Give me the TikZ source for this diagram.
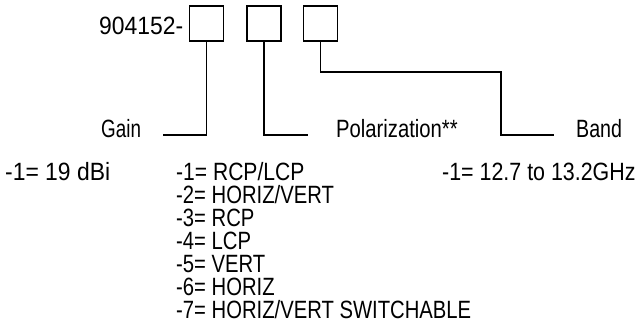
\documentclass[tikz,border=0pt]{standalone}
\usepackage{graphicx}
\usepackage{fontspec}
\setmainfont{Liberation Sans}[FakeStretch=0.81]
\begin{document}
\begin{tikzpicture}[x=1pt,y=-1pt,
  codebox/.style={draw=black,line width=1.8pt,minimum width=34pt,minimum height=35pt,inner sep=0pt},
  lbl/.style={anchor=base west,inner sep=0pt,font=\fontsize{25}{25}\selectfont},
  wire/.style={draw=black,line width=1.8pt}]
\useasboundingbox (0,0) rectangle (638,325);
\node[lbl] (pn) at (99,34) {\scalebox{1.13}[1]{904152-}};
\node[codebox] (b1) at (206.5,23.5) {};
\node[codebox] (b2) at (264,23.5) {};
\node[codebox] (b3) at (320.5,23.5) {};
\node[lbl] (gain) at (101,137) {\scalebox{0.93}[1]{Gain}};
\node[lbl] (pol) at (336,137) {Polarization**};
\node[lbl] (band) at (576,137) {\scalebox{0.97}[1]{Band}};
\coordinate (gainend) at (163,135);
\coordinate (polend) at (308,135);
\coordinate (bandmid) at (501,72);
\coordinate (bandend) at (554,135);
\draw[wire] (b1.south) |- (gainend);
\draw[wire] (b2.south) |- (polend);
\draw[wire] (b3.south) |- (bandmid) |- (bandend);
\node[lbl] (g1) at (5,180.5) {\scalebox{1.13}[1]{-1= 19 dBi}};
\node[lbl] (bd1) at (442,180.5) {\scalebox{1.057}[1]{-1= 12.7 to 13.2GHz}};
\node[lbl] (p1) at (176,180.5) {\scalebox{1.04}[1]{-1= RCP/LCP}};
\node[lbl] (p2) at (176,203.5) {-2= HORIZ/VERT};
\node[lbl] (p3) at (176,226.5) {-3= RCP};
\node[lbl] (p4) at (176,249.5) {-4= LCP};
\node[lbl] (p5) at (176,272.5) {-5= VERT};
\node[lbl] (p6) at (176,295.5) {-6= HORIZ};
\node[lbl] (p7) at (176,318.5) {-7= HORIZ/VERT SWITCHABLE};
\end{tikzpicture}
\end{document}
